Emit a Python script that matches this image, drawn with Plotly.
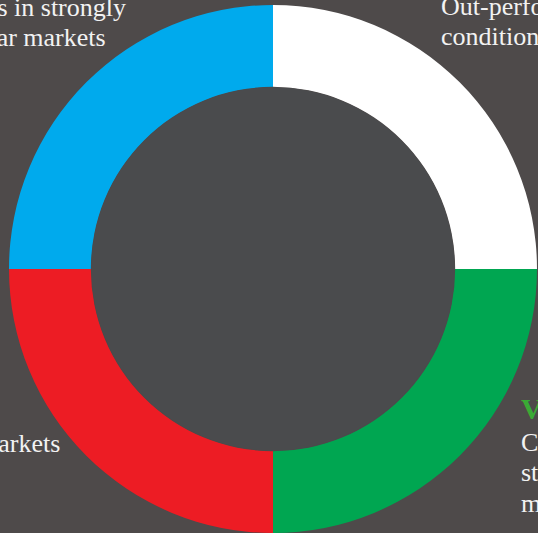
import plotly.graph_objects as go

# Four equal quadrants of the style wheel, clockwise from 12 o'clock
segments = ["Out-performs", "Value", "Falling markets", "Trending markets"]
shares = [25, 25, 25, 25]
segment_colors = ["#ffffff", "#00a651", "#ed1c24", "#00aaed"]

BG = "#4e4a4a"
HOLE_BG = "#4a4b4d"
TEXT = "#f2f2f2"
HEAD_GREEN = "#3aaa35"
SERIF = "Liberation Serif, Times New Roman, serif"

W, H = 538, 533
dom_x = [8 / W, 1.0]
dom_y = [0.0, 528 / H]
HOLE = 0.69

fig = go.Figure(
    go.Pie(
        labels=segments,
        values=shares,
        sort=False,
        direction="clockwise",
        rotation=0,
        hole=HOLE,
        marker=dict(colors=segment_colors, line=dict(width=0)),
        textinfo="none",
        hoverinfo="label+percent",
        showlegend=False,
        domain=dict(x=dom_x, y=dom_y),
    )
)

# Inner disc fill (slightly cooler grey than the page)
cx = (dom_x[0] + dom_x[1]) / 2 * W
cy = (dom_y[0] + dom_y[1]) / 2 * H
r_out = min((dom_x[1] - dom_x[0]) * W, (dom_y[1] - dom_y[0]) * H) / 2
r_in = r_out * HOLE - 0.5
fig.add_shape(
    type="circle",
    xref="paper", yref="paper",
    x0=(cx - r_in) / W, x1=(cx + r_in) / W,
    y0=(cy - r_in) / H, y1=(cy + r_in) / H,
    fillcolor=HOLE_BG,
    line=dict(width=0),
    layer="above",
)

FS = 26


def text_line(txt, x_px, base_px, anchor, size=FS, color=TEXT, bold=False):
    # place a single line by its baseline (pixels from top)
    y_mid = base_px - 0.3375 * size
    if bold:
        txt = "<b>" + txt + "</b>"
    fig.add_annotation(
        text=txt,
        xref="paper", yref="paper",
        x=x_px / W, y=1 - y_mid / H,
        xanchor=anchor, yanchor="middle",
        showarrow=False,
        borderpad=0,
        font=dict(family=SERIF, size=size, color=color),
    )


# Upper-left caption
text_line("Lags in strongly", 127, 16, "right")
text_line("bull or bear markets", 107, 46, "right")

# Upper-right caption
text_line("Out-performs in", 440, 15, "left")
text_line("conditions", 440, 45, "left")

# Lower-left caption
text_line("in falling markets", 61, 452, "right")

# Lower-right caption
text_line("Value", 520, 419, "left", size=30, color=HEAD_GREEN, bold=True)
text_line("Consistent in", 520, 451, "left")
text_line("steady, rising", 520, 481, "left")
text_line("markets", 520, 512, "left")

fig.update_layout(
    width=W,
    height=H,
    margin=dict(l=0, r=0, t=0, b=0),
    paper_bgcolor=BG,
    plot_bgcolor=BG,
)

fig.write_html("out.html")
